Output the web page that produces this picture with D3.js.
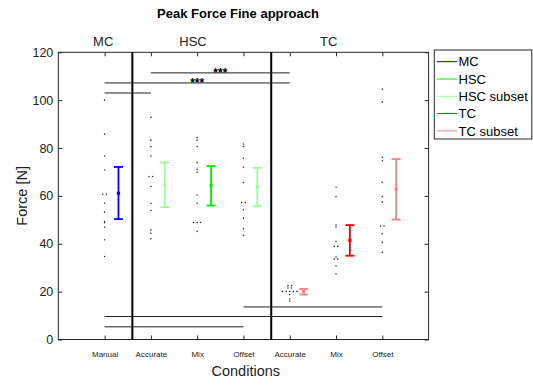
<!DOCTYPE html>
<html>
<head>
<meta charset="utf-8">
<script src="https://cdn.jsdelivr.net/npm/d3@7"></script>
<style>
  html, body { margin: 0; padding: 0; background: #fff; }
  svg { display: block; font-family: "Liberation Sans", Arial, Helvetica, sans-serif; }
</style>
</head>
<body>
<svg id="chart" width="533" height="385"></svg>
<script>
// Condition names along the x axis (positions 1..7)
const conditions = ["Manual", "Accurate", "Mix", "Offset", "Accurate", "Mix", "Offset"];
// Which legend series each condition's error bar belongs to
const conditionSeries = ["MC", "HSC subset", "HSC", "HSC subset", "TC subset", "TC", "TC subset"];

// Individual peak forces per condition [N]
const manualMC = [100, 85.8, 76.7, 70.8, 60.7, 60.7, 56.9, 53.2, 49.3, 48.8, 46.9, 41.7, 34.7];
const accurateHSC = [92.8, 83.3, 80.6, 76.7, 68.1, 68.1, 63.9, 56.9, 53.9, 45.8, 44.4, 42.1];
const mixHSC = [84.4, 83.3, 80.6, 73.9, 71.1, 70.0, 60.4, 56.9, 48.9, 48.9, 48.9, 45.1];
const offsetHSC = [81.7, 80.6, 75.7, 72.0, 65.6, 57.2, 57.2, 54.2, 50.7, 46.3, 43.5];
const accurateTC = [22.5, 22.5, 21.5, 21.5, 20.1, 20.1, 20.1, 20.1, 20.1, 18.8, 16.9, 16.0];
const mixTC = [63.6, 59.7, 47.8, 46.9, 41.0, 38.9, 38.9, 34.4, 33.6, 33.6, 30.8, 27.5];
const offsetTC = [104.6, 99.2, 76.1, 74.7, 65.7, 59.7, 57.4, 47.4, 47.4, 44.2, 40.6, 36.4];
const pointsByCondition = [manualMC, accurateHSC, mixHSC, offsetHSC, accurateTC, mixTC, offsetTC];

// Mean and error-bar limits per condition [N]
const means = [61.1, 64.7, 64.3, 63.9, 20.1, 41.4, 62.8];
const upper = [72.1, 74.0, 72.5, 71.7, 21.1, 47.8, 75.4];
const lower = [50.3, 55.3, 56.0, 55.8, 18.8, 35.0, 50.1];

// Legend series and colours
const seriesNames = ["MC", "HSC", "HSC subset", "TC", "TC subset"];
const seriesColors = ["#0000ff", "#00ee00", "#99ff99", "#ff0000", "#ff8080"];

// Group headings above the plot
const groupNames = ["MC", "HSC", "TC"];

// Significance brackets: from condition, to condition, height [N], marker
const bracketFrom = [2, 1, 1, 4, 1, 1];
const bracketTo = [5, 5, 2, 7, 7, 4];
const bracketAt = [111.4, 107.2, 103.0, 13.6, 9.6, 5.3];
const bracketMark = ["***", "***", "", "", "", ""];

// Axis ticks
const yTicks = [0, 20, 40, 60, 80, 100, 120];

// ---- layout ----
const svg = d3.select("#chart");
const plotLeft = 58.3, plotRight = 428.6, plotTop = 52.3, plotBottom = 339.5;
const x = d3.scaleLinear().domain([0, 8]).range([plotLeft, plotRight]);
const y = d3.scaleLinear().domain([0, 120]).range([plotBottom, plotTop]);
const color = d3.scaleOrdinal().domain(seriesNames).range(seriesColors);
const barOffset = 0.3;            // error bars sit to the right of the raw points
const dividers = [1.6, 4.6];      // separators between MC | HSC | TC
const groupLabelX = [0.97, 2.91, 5.84];
const axisColor = "#262626";

// Title
svg.append("text")
  .attr("x", 238).attr("y", 17.5)
  .attr("text-anchor", "middle")
  .attr("font-size", 13).attr("font-weight", "bold")
  .attr("fill", "#000")
  .text("Peak Force Fine approach");

// Axes
const xIdx = d3.range(1, conditions.length + 1);
const gx = svg.append("g").attr("transform", `translate(0,${plotBottom})`)
  .call(d3.axisBottom(x).tickValues(xIdx).tickFormat(i => conditions[i - 1])
    .tickSizeInner(-4).tickSizeOuter(0).tickPadding(12));
gx.selectAll("text").attr("font-size", 8).attr("fill", "#222");
const gxt = svg.append("g").attr("transform", `translate(0,${plotTop})`)
  .call(d3.axisTop(x).tickValues(xIdx).tickFormat("").tickSizeInner(-4).tickSizeOuter(0));
const gy = svg.append("g").attr("transform", `translate(${plotLeft},0)`)
  .call(d3.axisLeft(y).tickValues(yTicks).tickSizeInner(-4).tickSizeOuter(0).tickPadding(5));
gy.selectAll("text").attr("font-size", 12.5).attr("fill", "#222");
const gyr = svg.append("g").attr("transform", `translate(${plotRight},0)`)
  .call(d3.axisRight(y).tickValues(yTicks).tickFormat("").tickSizeInner(-4).tickSizeOuter(0));
[gx, gxt, gy, gyr].forEach(g => {
  g.attr("font-family", null);
  g.select(".domain").remove();
  g.selectAll("line").attr("stroke", axisColor);
});
svg.append("rect")
  .attr("x", plotLeft).attr("y", plotTop)
  .attr("width", plotRight - plotLeft).attr("height", plotBottom - plotTop)
  .attr("fill", "none").attr("stroke", axisColor).attr("stroke-width", 1);

// Axis titles
svg.append("text")
  .attr("x", x(4.05)).attr("y", 375.5)
  .attr("text-anchor", "middle").attr("font-size", 14.5).attr("fill", "#222")
  .text("Conditions");
svg.append("text")
  .attr("transform", `translate(27,${(plotTop + plotBottom) / 2}) rotate(-90)`)
  .attr("text-anchor", "middle").attr("font-size", 14.5).attr("fill", "#222")
  .text("Force [N]");

// Group headings
svg.selectAll("text.group").data(groupNames).join("text")
  .attr("class", "group")
  .attr("x", (d, i) => x(groupLabelX[i])).attr("y", 45.5)
  .attr("text-anchor", "middle").attr("font-size", 13).attr("fill", "#222")
  .text(d => d);

// Group dividers
svg.selectAll("line.divider").data(dividers).join("line")
  .attr("class", "divider")
  .attr("x1", d => x(d)).attr("x2", d => x(d))
  .attr("y1", plotTop).attr("y2", plotBottom)
  .attr("stroke", "#000").attr("stroke-width", 2);

// Significance brackets
const brackets = bracketFrom.map((f, i) => ({ f, t: bracketTo[i], v: bracketAt[i], m: bracketMark[i] }));
svg.selectAll("line.bracket").data(brackets).join("line")
  .attr("class", "bracket")
  .attr("x1", d => x(d.f)).attr("x2", d => x(d.t))
  .attr("y1", d => y(d.v)).attr("y2", d => y(d.v))
  .attr("stroke", "#222").attr("stroke-width", 1);
svg.selectAll("text.mark").data(brackets.filter(d => d.m)).join("text")
  .attr("class", "mark")
  .attr("x", d => x((d.f + d.t) / 2)).attr("y", d => y(d.v) + 4.2)
  .attr("text-anchor", "middle").attr("font-size", 12).attr("font-weight", "bold")
  .attr("fill", "#000")
  .text(d => d.m);

// Raw data points; equal values are spread sideways so they stay visible
const pts = [];
pointsByCondition.forEach((vals, ci) => {
  const groups = d3.group(vals, v => v);
  groups.forEach((arr, v) => {
    arr.forEach((_, k) => pts.push({ c: ci + 1, v, shift: (k - (arr.length - 1) / 2) * 3.6 }));
  });
});
svg.selectAll("circle.pt").data(pts).join("circle")
  .attr("class", "pt")
  .attr("cx", d => x(d.c) + d.shift).attr("cy", d => y(d.v))
  .attr("r", 0.8).attr("fill", "#333");

// Error bars with mean markers
const bars = means.map((m, i) => ({ c: i + 1, m, hi: upper[i], lo: lower[i], s: conditionSeries[i] }));
const gb = svg.selectAll("g.bar").data(bars).join("g").attr("class", "bar")
  .attr("stroke", d => color(d.s)).attr("fill", d => color(d.s));
gb.append("line")
  .attr("x1", d => x(d.c + barOffset)).attr("x2", d => x(d.c + barOffset))
  .attr("y1", d => y(d.hi)).attr("y2", d => y(d.lo)).attr("stroke-width", 1.8);
gb.append("line")
  .attr("x1", d => x(d.c + barOffset) - 4.5).attr("x2", d => x(d.c + barOffset) + 4.5)
  .attr("y1", d => y(d.hi)).attr("y2", d => y(d.hi)).attr("stroke-width", 1.8);
gb.append("line")
  .attr("x1", d => x(d.c + barOffset) - 4.5).attr("x2", d => x(d.c + barOffset) + 4.5)
  .attr("y1", d => y(d.lo)).attr("y2", d => y(d.lo)).attr("stroke-width", 1.8);
gb.append("rect")
  .attr("x", d => x(d.c + barOffset) - 1.6).attr("y", d => y(d.m) - 1.6)
  .attr("width", 3.2).attr("height", 3.2).attr("stroke", "none");

// Legend
const lg = svg.append("g");
lg.append("rect")
  .attr("x", 434.3).attr("y", 50).attr("width", 97.5).attr("height", 89)
  .attr("fill", "#fff").attr("stroke", axisColor).attr("stroke-width", 1);
const rows = lg.selectAll("g.row").data(seriesNames).join("g").attr("class", "row")
  .attr("transform", (d, i) => `translate(0,${61.7 + i * 17.3})`);
rows.append("line")
  .attr("x1", 436.7).attr("x2", 457.3).attr("y1", 0).attr("y2", 0)
  .attr("stroke", d => color(d)).attr("stroke-width", 1);
rows.append("text")
  .attr("x", 458.5).attr("y", 0).attr("dy", "0.36em")
  .attr("font-size", 13).attr("fill", "#000")
  .text(d => d);
</script>
</body>
</html>
